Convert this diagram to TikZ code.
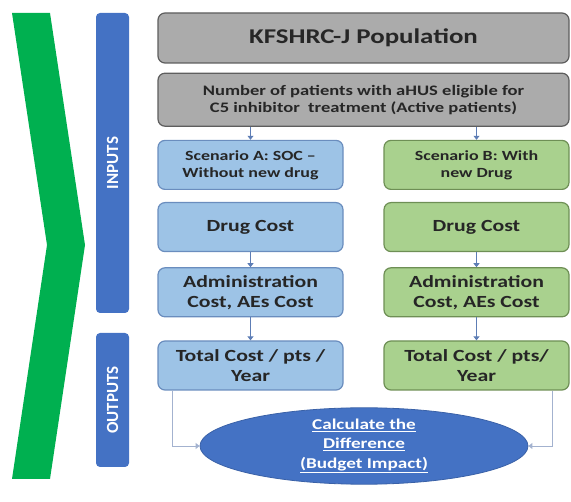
\documentclass[tikz,border=0pt]{standalone}
\usepackage{fontspec}
\setmainfont{Carlito}[FakeStretch=1.28]
\newfontfamily\barfont{Carlito}
\usetikzlibrary{arrows.meta, positioning, shapes.geometric}
\definecolor{cgreen}{HTML}{00B050}
\definecolor{cbar}{HTML}{4472C4}
\definecolor{cgrey}{HTML}{ABABAB}
\definecolor{cgreyline}{HTML}{5E5E5E}
\definecolor{cblue}{HTML}{9DC3E6}
\definecolor{cblueline}{HTML}{6A8DBE}
\definecolor{cgreenbox}{HTML}{A9D18E}
\definecolor{cgreenline}{HTML}{6E8F55}
\definecolor{ctext}{HTML}{262626}
\definecolor{clink}{HTML}{A3B2CF}
\definecolor{carrow}{HTML}{5D7DB5}

\begin{document}
\begin{tikzpicture}[
  x=1pt, y=-1pt,
  >={Triangle[length=4pt,width=6pt]},
  box/.style={draw, rounded corners=7pt, align=center, line width=1.2pt,
              text=ctext, inner sep=2pt},
  greybox/.style={box, fill=cgrey, draw=cgreyline, minimum width=411pt},
  colA/.style={box, fill=cblue, draw=cblueline, minimum width=185pt,
               minimum height=49pt},
  colB/.style={box, fill=cgreenbox, draw=cgreenline, minimum width=185pt,
               minimum height=49pt},
  big/.style={font=\bfseries\fontsize{17}{20}\selectfont},
  small/.style={font=\bfseries\fontsize{14}{17}\selectfont},
  bar/.style={fill=cbar, rounded corners=4pt, text=white, rotate=90,
              minimum height=33pt, font=\barfont\bfseries\fontsize{17}{17}\selectfont},
  arr/.style={-{>}, draw=clink, line width=0.8pt, color=carrow},
  link/.style={-{>}, draw=clink, line width=0.9pt},
  ]
\useasboundingbox (0,0) rectangle (571,502);

% chevron and side bars
\fill[cgreen] (12,13) -- (50,13) -- (85,245) -- (50,479) -- (12,479) -- (47,245) -- cycle;
\node[bar, minimum width=300pt] (inputs) at (112.5,163) {INPUTS};
\node[bar, minimum width=134pt] (outputs) at (112.5,400) {OUTPUTS};

\node[greybox, minimum height=50pt, font=\bfseries\fontsize{21}{24}\selectfont] (pop)
  at (363.5,38) {KFSHRC-J Population};
\node[greybox, minimum height=53pt, below=9pt of pop,
      font=\bfseries\fontsize{14.5}{17}\selectfont] (patients)
  {Number of patients with aHUS eligible for\\
   C5 inhibitor\ \ treatment (Active patients)};

% scenario A
\node[colA, small, below=13pt of patients.south west, anchor=north west] (scenA)
  {Scenario A: SOC --\\ Without new drug};
\node[colA, big, below=12pt of scenA] (drugA) {Drug Cost};
\node[colA, big, below=15pt of drugA] (adminA) {Administration\\ Cost, AEs Cost};
\node[colA, big, below=23pt of adminA] (totA) {Total Cost / pts /\\ Year};

% scenario B
\node[colB, small, below=13pt of patients.south east, anchor=north east] (scenB)
  {Scenario B: With\\ new Drug};
\node[colB, big, below=12pt of scenB] (drugB) {Drug Cost};
\node[colB, big, below=15pt of drugB] (adminB) {Administration\\ Cost, AEs Cost};
\node[colB, big, below=23pt of adminB] (totB) {Total Cost / pts/\\ Year};

\node[ellipse, fill=cbar, draw=cbar!85!black, line width=0.8pt, text=white,
      align=center, minimum width=328pt, minimum height=68pt, inner sep=0pt,
      font=\bfseries\fontsize{15}{19.5}\selectfont] (diff) at (364,446)
  {\underline{Calculate the}\\ \underline{Difference}\\ \underline{(Budget Impact)}};

\draw[arr] (patients.south -| scenA) -- (scenA);
\draw[arr] (patients.south -| scenB) -- (scenB);
\draw[arr] (drugA) -- (adminA);
\draw[arr] (adminA) -- (totA);
\draw[arr] (drugB) -- (adminB);
\draw[arr] (adminB) -- (totB);
\draw[link] ([xshift=15pt]totA.south west) |- (diff.west);
\draw[link] ([xshift=-17pt]totB.south east) |- (diff.east);
\end{tikzpicture}
\end{document}
